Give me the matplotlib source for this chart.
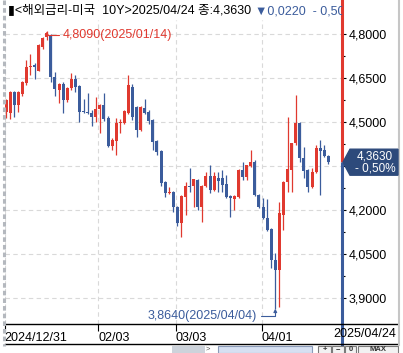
#!/usr/bin/env python

"""
US 10Y treasury yield, daily candles 2024/12/31 - 2025/04/24,
drawn in the style of a Korean HTS chart window.
"""

import numpy as np
import matplotlib
matplotlib.use("Agg")
import matplotlib.pyplot as plt
from matplotlib.patches import Polygon, Rectangle
from matplotlib.lines import Line2D

opens = [4.534, 4.531, 4.602, 4.558, 4.595, 4.633, 4.688, 4.694, 4.674, 4.756,
         4.790, 4.797, 4.653, 4.609, 4.630, 4.575, 4.616, 4.647, 4.623, 4.537,
         4.534, 4.531, 4.517, 4.544, 4.558, 4.514, 4.418, 4.435, 4.497, 4.497,
         4.531, 4.619, 4.551, 4.473, 4.548, 4.534, 4.507, 4.435, 4.401, 4.295,
         4.258, 4.261, 4.210, 4.156, 4.244, 4.282, 4.282, 4.302, 4.210, 4.282,
         4.316, 4.268, 4.309, 4.309, 4.289, 4.248, 4.237, 4.244, 4.336, 4.312,
         4.350, 4.364, 4.251, 4.210, 4.173, 4.135, 4.030, 3.995, 4.183, 4.295,
         4.336, 4.428, 4.497, 4.377, 4.336, 4.278, 4.330, 4.411, 4.405, 4.385]
highs = [4.578, 4.606, 4.606, 4.606, 4.640, 4.711, 4.732, 4.701, 4.765, 4.790,
         4.809, 4.800, 4.670, 4.632, 4.636, 4.619, 4.667, 4.660, 4.626, 4.578,
         4.599, 4.540, 4.585, 4.560, 4.599, 4.520, 4.445, 4.514, 4.510, 4.540,
         4.660, 4.630, 4.556, 4.555, 4.578, 4.540, 4.510, 4.440, 4.405, 4.299,
         4.278, 4.265, 4.215, 4.250, 4.295, 4.343, 4.306, 4.306, 4.285, 4.330,
         4.353, 4.330, 4.330, 4.336, 4.319, 4.251, 4.251, 4.340, 4.364, 4.353,
         4.405, 4.370, 4.255, 4.241, 4.237, 4.138, 4.053, 4.227, 4.299, 4.517,
         4.430, 4.592, 4.500, 4.415, 4.340, 4.343, 4.422, 4.439, 4.422, 4.388]
lows = [4.514, 4.510, 4.517, 4.534, 4.590, 4.626, 4.660, 4.647, 4.674, 4.750,
        4.780, 4.636, 4.589, 4.565, 4.531, 4.568, 4.609, 4.602, 4.500, 4.531,
        4.527, 4.486, 4.500, 4.462, 4.505, 4.415, 4.405, 4.387, 4.462, 4.493,
        4.527, 4.507, 4.449, 4.470, 4.527, 4.493, 4.405, 4.387, 4.282, 4.244,
        4.255, 4.193, 4.145, 4.108, 4.183, 4.261, 4.210, 4.200, 4.159, 4.278,
        4.258, 4.265, 4.261, 4.261, 4.241, 4.176, 4.200, 4.241, 4.302, 4.302,
        4.345, 4.248, 4.207, 4.170, 4.130, 4.002, 3.864, 3.869, 4.132, 4.261,
        4.261, 4.420, 4.364, 4.309, 4.261, 4.275, 4.325, 4.251, 4.380, 4.358]
closes = [4.575, 4.602, 4.558, 4.602, 4.636, 4.688, 4.691, 4.688, 4.762, 4.786,
          4.803, 4.653, 4.612, 4.630, 4.575, 4.616, 4.647, 4.619, 4.534, 4.534,
          4.531, 4.517, 4.544, 4.558, 4.510, 4.418, 4.439, 4.497, 4.500, 4.537,
          4.626, 4.517, 4.473, 4.551, 4.531, 4.503, 4.432, 4.398, 4.292, 4.258,
          4.261, 4.210, 4.156, 4.248, 4.282, 4.278, 4.306, 4.210, 4.282, 4.316,
          4.268, 4.316, 4.299, 4.285, 4.244, 4.241, 4.248, 4.336, 4.312, 4.353,
          4.364, 4.251, 4.210, 4.173, 4.132, 4.030, 3.995, 4.190, 4.295, 4.340,
          4.428, 4.497, 4.377, 4.333, 4.278, 4.330, 4.411, 4.401, 4.384, 4.363]

tick_idx = [0, 23, 42, 63]
tick_labels = ["2024/12/31", "02/03", "03/03", "04/01"]
last_date = "2025/04/24"
hi_date = "2025/01/14"
lo_date = "2025/04/04"
y_levels = [3.90, 4.05, 4.20, 4.35, 4.50, 4.65, 4.80]
change = 0.0220
change_pct = -0.50
title = "▮<해외금리-미국  10Y>"

RED = "#e0392f"
BLUE = "#3b5c9c"
NAVY = "#2d4a7b"
GRID = "#d9d9d9"

W, H = 403, 353


def fmt(v):
    return ("%.4f" % v).replace(".", ",")


def box(x0, y0, x1, y1):
    # pixel box (top-left origin) -> figure fraction rect
    return [x0 / W, 1 - y1 / H, (x1 - x0) / W, (y1 - y0) / H]


def fx(x):
    return x / W


def fy(y):
    return 1 - y / H


def main():

    plt.rcParams['font.family'] = ['Liberation Sans Narrow', 'Liberation Sans',
                                   'Noto Sans CJK KR', 'DejaVu Sans']
    plt.rcParams['font.size'] = 9

    fig = plt.figure(figsize=(W / 100, H / 100), dpi=100)
    ax = fig.add_axes(box(4.5, 20, 342, 324))

    o = np.array(opens)
    h = np.array(highs)
    l = np.array(lows)
    c = np.array(closes)
    x = np.arange(len(c))
    cols = np.where(c >= o, RED, BLUE)

    body_lo = np.minimum(o, c)
    body_h = np.maximum(np.abs(c - o), 0.004)
    ax.vlines(x, l, h, colors=cols, lw=0.9, zorder=2)
    ax.bar(x, body_h, bottom=body_lo, width=0.74, color=cols, lw=0, zorder=3)

    ax.set_xlim(-0.37, 82.35)
    ax.set_ylim(3.8114, 4.8478)

    # the level under the price tag carries no label
    ylabs = ["" if abs(v - c[-1]) < 0.04 else fmt(v) for v in y_levels]
    ax.set_xticks(np.array(tick_idx) - 0.36, tick_labels, ha='left')
    ax.set_yticks(y_levels, ylabs)
    ax.set_yticks(np.array(y_levels[:-1]) + 0.075, minor=True)
    ax.yaxis.tick_right()
    ax.tick_params(axis='y', which='major', length=3, width=0.8, pad=1.5,
                   labelsize=9, colors='black')
    ax.tick_params(axis='y', which='minor', length=2, width=0.8)
    ax.tick_params(axis='x', length=5, width=0.8, pad=0.5, labelsize=9)
    ax.grid(True, which='major', color=GRID, ls=(0, (4, 3)), lw=0.8)
    ax.set_axisbelow(True)
    for s in ax.spines.values():
        s.set_visible(False)

    # coloured price axis: red above last close, blue below
    ytr = ax.get_yaxis_transform()
    ax.plot([1, 1], [c[-1], 4.93], transform=ytr, clip_on=False, color=RED,
            lw=2.2, solid_capstyle='butt', zorder=5)
    ax.plot([1, 1], [3.735, c[-1]], transform=ytr, clip_on=False, color=BLUE,
            lw=2.2, solid_capstyle='butt', zorder=5)

    # high / low annotations
    i_hi = int(np.argmax(h))
    i_lo = int(np.argmin(l))
    ax.annotate("%s(%s)" % (fmt(h[i_hi]), hi_date), xy=(i_hi, h[i_hi]),
                xytext=(i_hi + 4, 4.798), ha='left', va='center', color=RED,
                fontsize=9,
                arrowprops=dict(arrowstyle='-|>', color=RED, lw=0.8,
                                mutation_scale=5, shrinkA=1, shrinkB=0,
                                connectionstyle='angle,angleA=0,angleB=90,rad=0'))
    ax.annotate("%s(%s)" % (fmt(l[i_lo]), lo_date), xy=(i_lo, l[i_lo]),
                xytext=(i_lo - 4.5, 3.8386), ha='right', va='center',
                color=BLUE, fontsize=9,
                arrowprops=dict(arrowstyle='-|>', color=BLUE, lw=0.8,
                                mutation_scale=5, shrinkA=1, shrinkB=0,
                                connectionstyle='angle,angleA=0,angleB=90,rad=0'))

    # current price tag
    yc = H - ax.transData.transform((0, c[-1]))[1]
    pts = [(343, yc), (350, yc - 13), (398, yc - 13), (398, yc + 13),
           (350, yc + 13)]
    fig.add_artist(Polygon([(fx(px), fy(py)) for px, py in pts], closed=True,
                           transform=fig.transFigure, facecolor=NAVY,
                           edgecolor=NAVY, zorder=10))
    pct = ("%.2f" % abs(change_pct)).replace(".", ",")
    fig.text(fx(375), fy(yc - 6), fmt(c[-1]), color='white', ha='center',
             va='center', fontsize=8.5, zorder=11)
    fig.text(fx(375), fy(yc + 6.5), "- %s%%" % pct,
             color='white', ha='center', va='center', fontsize=8.5, zorder=11)

    # title strip, clipped at the price axis
    tax = fig.add_axes(box(5, 0, 342, 20))
    tax.axis('off')
    t1 = tax.text(fx(8), fy(11), "%s%s 종:%s " % (title, last_date, fmt(c[-1])),
                  transform=fig.transFigure, ha='left', va='center',
                  color='black', clip_on=True)
    fig.canvas.draw()
    ext = t1.get_window_extent()
    tax.text(ext.x1 / W, fy(11), "▼%s  - %s%%" % (fmt(change), pct),
             transform=fig.transFigure, ha='left', va='center', color=BLUE,
             clip_on=True)

    # frame lines
    for yy in (324, 344):
        fig.add_artist(Line2D([fx(4.5), fx(398)], [fy(yy), fy(yy)],
                              color='black', lw=1.0))
    fig.add_artist(Line2D([fx(3.5), fx(3.5)], [fy(0), fy(346)],
                          color='#b4b8be', lw=2.2, dashes=(1.5, 1)))
    fig.add_artist(Line2D([fx(398.5), fx(398.5)], [fy(0), fy(345)],
                          color='#c6c6c6', lw=1.5))
    fig.text(fx(396), fy(334), last_date, ha='right', va='center', fontsize=9)

    # scroll bar strip
    fig.add_artist(Rectangle((fx(172), fy(353)), fx(33), 7 / H,
                             transform=fig.transFigure, facecolor='#cdd3db',
                             edgecolor='none'))
    fig.text(fx(208), fy(349.5), ">", fontsize=5.5, ha='center', va='center',
             color='#555555')
    fig.add_artist(Rectangle((fx(218), fy(353)), fx(94), 7 / H,
                             transform=fig.transFigure, facecolor='#d6e0f2',
                             edgecolor='#8a9ab8', lw=0.8))
    for x0, x1, lab in [(318, 331, "+"), (332, 344, "−"), (345, 356, "0"),
                        (358, 398, "MAX")]:
        fig.add_artist(Rectangle((fx(x0), fy(354)), fx(x1 - x0), 8.5 / H,
                                 transform=fig.transFigure, facecolor='#f2f2f2',
                                 edgecolor='#7a7a7a', lw=0.8))
        fig.text(fx((x0 + x1) / 2), fy(349.5), lab, fontsize=5.5, ha='center',
                 va='center', fontweight='bold', color='#333333')

    fig.savefig("out.png", dpi=100)


if __name__ == "__main__":
    main()
